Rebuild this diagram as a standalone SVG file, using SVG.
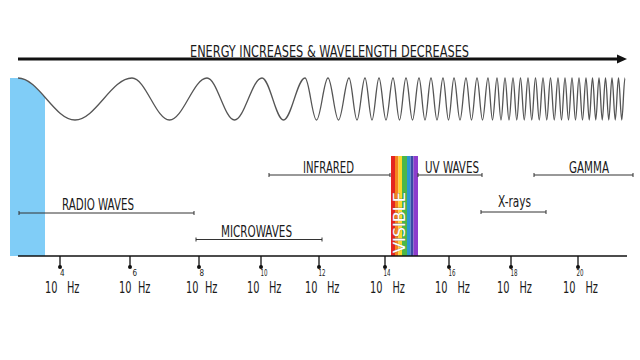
<svg xmlns="http://www.w3.org/2000/svg" width="640" height="360" viewBox="0 0 640 360">
<style>
text{font-family:"DejaVu Sans Condensed","DejaVu Sans","Liberation Sans",sans-serif;font-stretch:condensed;fill:#1a1a1a}
.t{font-size:16px}
.lb{font-size:15px}
.n{font-size:15px}
.s{font-size:8px}
.rng{stroke:#333;stroke-width:1;fill:none}
.tick{stroke:#111;stroke-width:1.3}
</style>
<defs>
<clipPath id="bc"><path d="M10,78 L18,78 C38.5,78 54.5,120 75,120 L75,260 L10,260 Z"/></clipPath>
</defs>
<rect width="640" height="360" fill="#fff"/>
<g id="radio-band"><rect x="10" y="70" width="35" height="186" fill="#80cdf7" clip-path="url(#bc)"/></g>
<g id="title">
<line x1="18" y1="59" x2="619" y2="59" stroke="#111" stroke-width="3"/>
<polygon points="617,54.5 627,59 617,63.5" fill="#111"/>
<text class="t" x="190" y="56.5" textLength="279" lengthAdjust="spacingAndGlyphs">ENERGY INCREASES &amp; WAVELENGTH DECREASES</text>
</g>
<g id="wave"><path fill="none" stroke="#555" stroke-width="1.3" d="M18,78 C38.5,78 54.5,120 75,120 C95.5,120 111.5,78 132,78 C145.6,78 155.9,120 169.5,120 C183.1,120 193.4,78 207,78 C217,78 224.5,120 234.5,120 C244.5,120 252,78 262,78 C269.8,78 275.7,120 283.5,120 C291.3,120 297.2,78 305,78 C309.2,78 312.3,120 316.5,120 C320.7,120 323.8,78 328,78 C331.8,78 334.7,120 338.5,120 C342.3,120 345.2,78 349,78 C351.9,78 354.1,120 357,120 C359.9,120 362.1,78 365,78 C367.5,78 369.5,120 372,120 C374.5,120 376.5,78 379,78 C381.5,78 383.5,120 386,120 C388.5,120 390.5,78 393,78 C395.4,78 397.1,120 399.5,120 C401.9,120 403.6,78 406,78 C408.4,78 410.1,120 412.5,120 C414.9,120 416.6,78 419,78 C421.2,78 422.8,120 425,120 C427.2,120 428.8,78 431,78 C433.2,78 434.8,120 437,120 C439.2,120 440.8,78 443,78 C445,78 446.5,120 448.5,120 C450.5,120 452,78 454,78 C456.2,78 457.8,120 460,120 C462.2,120 463.8,78 466,78 C468,78 469.5,120 471.5,120 C473.5,120 475,78 477,78 C479,78 480.5,120 482.5,120 C484.5,120 486,78 488,78 C489.6,78 490.9,120 492.5,120 C494.1,120 495.4,78 497,78 C498.5,78 499.5,120 501,120 C502.5,120 503.5,78 505,78 C506.5,78 507.5,120 509,120 C510.5,120 511.5,78 513,78 C514.4,78 515.4,120 516.75,120 C518.1,120 519.1,78 520.5,78 C521.9,78 522.9,120 524.25,120 C525.6,120 526.6,78 528,78 C529.4,78 530.4,120 531.75,120 C533.1,120 534.1,78 535.5,78 C536.9,78 537.9,120 539.25,120 C540.6,120 541.6,78 543,78 C544.4,78 545.4,120 546.75,120 C548.1,120 549.1,78 550.5,78 C551.9,78 552.9,120 554.25,120 C555.6,120 556.6,78 558,78 C559.3,78 560.2,120 561.5,120 C562.8,120 563.7,78 565,78 C566.3,78 567.2,120 568.5,120 C569.8,120 570.7,78 572,78 C573.3,78 574.2,120 575.5,120 C576.8,120 577.7,78 579,78 C580.3,78 581.2,120 582.5,120 C583.8,120 584.7,78 586,78 C587.2,78 588.1,120 589.25,120 C590.4,120 591.3,78 592.5,78 C593.7,78 594.6,120 595.75,120 C596.9,120 597.8,78 599,78 C600.2,78 601.1,120 602.25,120 C603.4,120 604.3,78 605.5,78 C606.7,78 607.6,120 608.75,120 C609.9,120 610.8,78 612,78 C613.2,78 614.1,120 615.25,120 C616.4,120 617.3,78 618.5,78 C619.7,78 620.6,120 621.75,120 C622.9,120 623.8,78 625,78"/></g>
<g id="visible">
<rect x="391" y="156" width="4" height="100" fill="#e42620"/>
<rect x="395" y="156" width="3.5" height="100" fill="#f5831f"/>
<rect x="398.5" y="156" width="3.5" height="100" fill="#fbd92a"/>
<rect x="402" y="156" width="5" height="100" fill="#4bb748"/>
<rect x="407" y="156" width="3.5" height="100" fill="#2b96d3"/>
<rect x="410.5" y="156" width="3" height="100" fill="#3a4aa5"/>
<rect x="413.5" y="156" width="4.5" height="100" fill="#8d3ccc"/>
<text transform="translate(405,222.5) rotate(-90)" x="0" y="0" text-anchor="middle" font-size="16" textLength="61" lengthAdjust="spacingAndGlyphs" style="fill:#fff;stroke:#555;stroke-width:0.4;paint-order:stroke">VISIBLE</text>
</g>
<g id="ranges">
<g id="radio"><path class="rng" d="M19,213 H194 M19,211 v4 M194,211 v4"/><text class="lb" x="62" y="209.5" textLength="72" lengthAdjust="spacingAndGlyphs">RADIO WAVES</text></g>
<g id="microwaves"><path class="rng" d="M196,239.5 H322 M196,237.5 v4 M322,237.5 v4"/><text class="lb" x="221" y="236.5" textLength="71" lengthAdjust="spacingAndGlyphs">MICROWAVES</text></g>
<g id="infrared"><path class="rng" d="M269,175 H390 M269,173 v4 M390,173 v4"/><text class="lb" x="303" y="172.5" textLength="51" lengthAdjust="spacingAndGlyphs">INFRARED</text></g>
<g id="uv"><path class="rng" d="M418,175 H482 M418,173 v4 M482,173 v4"/><text class="lb" x="425" y="172.5" textLength="54" lengthAdjust="spacingAndGlyphs">UV WAVES</text></g>
<g id="gamma"><path class="rng" d="M534,175 H633 M534,173 v4 M633,173 v4"/><text class="lb" x="569" y="172.5" textLength="40" lengthAdjust="spacingAndGlyphs">GAMMA</text></g>
<g id="xrays"><path class="rng" d="M481,212 H546 M481,210 v4 M546,210 v4"/><text class="lb" x="498" y="207" textLength="33" lengthAdjust="spacingAndGlyphs">X-rays</text></g>
</g>
<g id="axis">
<line x1="18" y1="256" x2="627" y2="256" stroke="#111" stroke-width="1.5"/>
<g class="tick">
<path d="M60,256 v10 M130,256 v10 M199,256 v10 M261,256 v10 M319,256 v10 M385,256 v10 M449,256 v10 M511,256 v10 M578,256 v10"/>
</g>
<g fill="#111">
<circle cx="60" cy="267" r="2"/><circle cx="130" cy="267" r="2"/><circle cx="199" cy="267" r="2"/><circle cx="261" cy="267" r="2"/><circle cx="319" cy="267" r="2"/><circle cx="385" cy="267" r="2"/><circle cx="449" cy="267" r="2"/><circle cx="511" cy="267" r="2"/><circle cx="578" cy="267" r="2"/>
</g>
</g>
<g id="freq-labels">
<text class="n" y="292.5"><tspan x="45" textLength="12.5" lengthAdjust="spacingAndGlyphs">10</tspan><tspan class="s" x="60" y="276">4</tspan><tspan x="67" y="292.5" textLength="12.5" lengthAdjust="spacingAndGlyphs">Hz</tspan></text>
<text class="n" y="292.5"><tspan x="119" textLength="12.5" lengthAdjust="spacingAndGlyphs">10</tspan><tspan class="s" x="132.5" y="276">6</tspan><tspan x="138" y="292.5" textLength="12.5" lengthAdjust="spacingAndGlyphs">Hz</tspan></text>
<text class="n" y="292.5"><tspan x="186" textLength="12.5" lengthAdjust="spacingAndGlyphs">10</tspan><tspan class="s" x="199.5" y="276">8</tspan><tspan x="205" y="292.5" textLength="12.5" lengthAdjust="spacingAndGlyphs">Hz</tspan></text>
<text class="n" y="292.5"><tspan x="247" textLength="12.5" lengthAdjust="spacingAndGlyphs">10</tspan><tspan class="s" x="260.5" y="276" textLength="7" lengthAdjust="spacingAndGlyphs">10</tspan><tspan x="269" y="292.5" textLength="12.5" lengthAdjust="spacingAndGlyphs">Hz</tspan></text>
<text class="n" y="292.5"><tspan x="305" textLength="12.5" lengthAdjust="spacingAndGlyphs">10</tspan><tspan class="s" x="318.5" y="276" textLength="7" lengthAdjust="spacingAndGlyphs">12</tspan><tspan x="327" y="292.5" textLength="12.5" lengthAdjust="spacingAndGlyphs">Hz</tspan></text>
<text class="n" y="292.5"><tspan x="370" textLength="12.5" lengthAdjust="spacingAndGlyphs">10</tspan><tspan class="s" x="383.5" y="276" textLength="7" lengthAdjust="spacingAndGlyphs">14</tspan><tspan x="392.5" y="292.5" textLength="12.5" lengthAdjust="spacingAndGlyphs">Hz</tspan></text>
<text class="n" y="292.5"><tspan x="435" textLength="12.5" lengthAdjust="spacingAndGlyphs">10</tspan><tspan class="s" x="448.5" y="276" textLength="7" lengthAdjust="spacingAndGlyphs">16</tspan><tspan x="457.5" y="292.5" textLength="12.5" lengthAdjust="spacingAndGlyphs">Hz</tspan></text>
<text class="n" y="292.5"><tspan x="497" textLength="12.5" lengthAdjust="spacingAndGlyphs">10</tspan><tspan class="s" x="510.5" y="276" textLength="7" lengthAdjust="spacingAndGlyphs">18</tspan><tspan x="519.5" y="292.5" textLength="12.5" lengthAdjust="spacingAndGlyphs">Hz</tspan></text>
<text class="n" y="292.5"><tspan x="563" textLength="12.5" lengthAdjust="spacingAndGlyphs">10</tspan><tspan class="s" x="576.5" y="276" textLength="7" lengthAdjust="spacingAndGlyphs">20</tspan><tspan x="585.5" y="292.5" textLength="12.5" lengthAdjust="spacingAndGlyphs">Hz</tspan></text>
</g>
</svg>
